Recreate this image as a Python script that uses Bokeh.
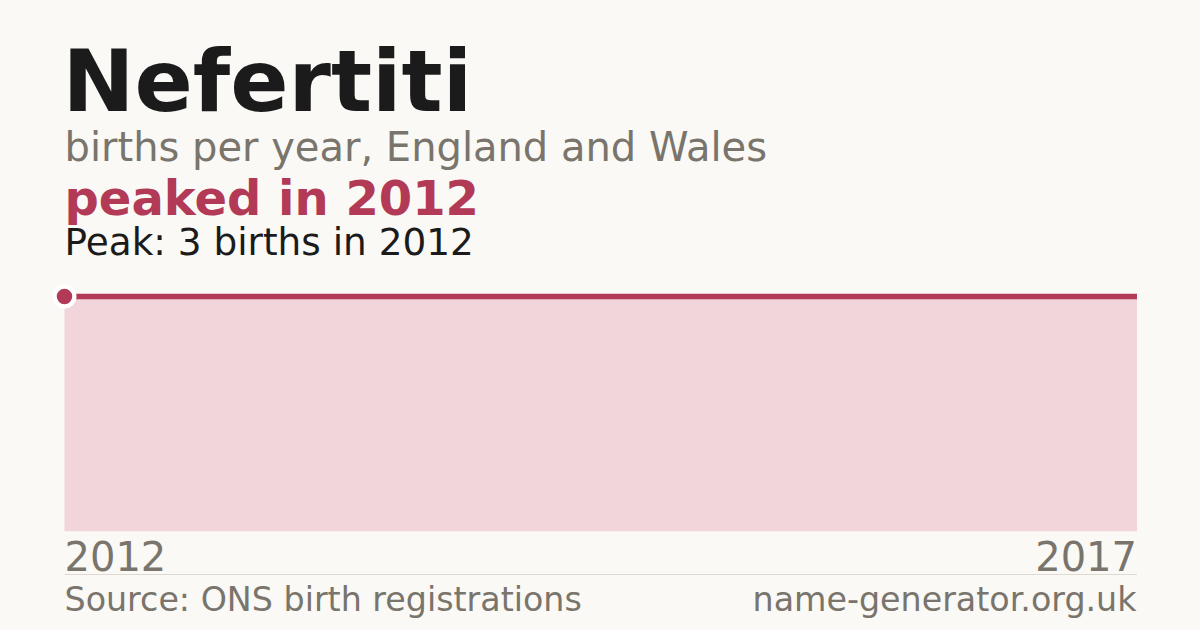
from bokeh.plotting import figure
from bokeh.models import Label, Range1d
from bokeh.embed import file_html
from bokeh.resources import INLINE

# ---- data ----
name = "Nefertiti"
years = [2012, 2013, 2014, 2015, 2016, 2017]
births = [3, 3, 3, 3, 3, 3]
peak_year = 2012
peak_value = 3
subtitle = "births per year, England and Wales"
headline = "peaked in 2012"
peak_text = "Peak: 3 births in 2012"
source_text = "Source: ONS birth registrations"
site_text = "name-generator.org.uk"

# ---- style ----
BG = "#faf9f5"
CRIMSON = "#b33a57"
PINK = "#f2d5da"
GREY = "#79746c"
DARK = "#1b1b1b"
RULE = "#dedad2"
FONT = "DejaVu Sans"

W, H = 1200, 630
OFF = 0  # page margin (set to 0 below via CSS)
SHIFT = 0.39  # baseline compensation as fraction of font size

# pixel anchors (page coords) for data mapping
x0_px, x1_px = 64 - OFF, 1136.5 - OFF
ytop_px, ybot_px = 296 - OFF, 530.7 - OFF

xmin, xmax = years[0], years[-1]
xs = (x1_px - x0_px) / (xmax - xmin)
ymax_v = max(births)
ys = (ybot_px - ytop_px) / ymax_v

x_start = xmin - x0_px / xs
x_end = xmax + (W - x1_px) / xs
y_end = ymax_v + ytop_px / ys
y_start = -(H - ybot_px) / ys


def yval(page_y):
    return (ybot_px - (page_y - OFF)) / ys


p = figure(width=W, height=H, output_backend="svg", toolbar_location=None,
           x_range=Range1d(x_start, x_end), y_range=Range1d(y_start, y_end),
           x_axis_location=None, y_axis_location=None, min_border=0,
           background_fill_color=BG, border_fill_color=BG, outline_line_color=None)
p.grid.visible = False

p.varea(x=years, y1=[0] * len(years), y2=births, fill_color=PINK, fill_alpha=1)
p.line(x=years, y=births, line_color=CRIMSON, line_width=5.5)
p.scatter(x=[peak_year], y=[peak_value], size=24, fill_color="white", line_color=None)
p.scatter(x=[peak_year], y=[peak_value], size=15.5, fill_color=CRIMSON, line_color=None)

# rule above footer
p.segment(x0=[xmin], x1=[xmax], y0=[yval(574)], y1=[yval(574)], line_color=RULE, line_width=1)


def slabel(text, page_x, page_y, size, color, bold=False, align="left"):
    yb = page_y - SHIFT * size
    p.add_layout(Label(x=page_x - OFF, y=H - (yb - OFF), x_units="screen", y_units="screen",
                       text=text, text_font=FONT, text_font_size=f"{size}px",
                       text_font_style="bold" if bold else "normal", text_color=color,
                       text_align=align, text_baseline="alphabetic"))


slabel(name, 62, 114.5, 86, DARK, bold=True)
slabel(subtitle, 64, 162, 40, GREY)
slabel(headline, 64, 216, 48, CRIMSON, bold=True)
slabel(peak_text, 64, 256, 37.4, DARK)
slabel(source_text, 64, 612, 33.3, GREY)
slabel(site_text, 1136, 612, 33.3, GREY, align="right")

# year tick labels at data x positions
for yr, al in [(years[0], "left"), (years[-1], "right")]:
    yb = 570.7 - SHIFT * 40
    p.add_layout(Label(x=yr, y=H - (yb - OFF), x_units="data", y_units="screen",
                       text=str(yr), text_font=FONT, text_font_size="40px", text_color=GREY,
                       text_align=al, text_baseline="alphabetic"))

html = file_html(p, INLINE)
html = html.replace("<head>", f"<head><style>html,body{{background:{BG};margin:0;padding:0;overflow:hidden;}}</style>", 1)
open("out.html", "w").write(html)
